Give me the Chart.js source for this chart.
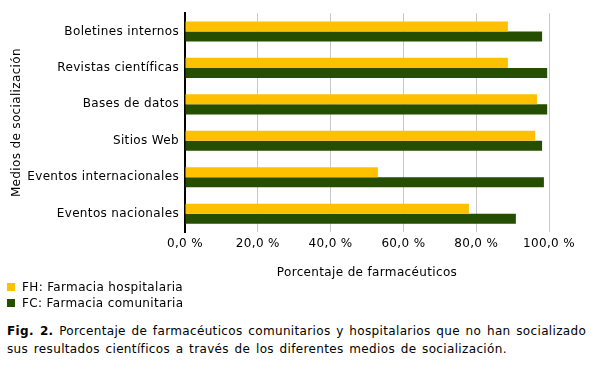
<!DOCTYPE html>
<html>
<head>
<meta charset="utf-8">
<script src="https://cdn.jsdelivr.net/npm/chart.js@4/dist/chart.umd.min.js"></script>
<style>
  body { margin: 0; background: #fff; font-family: "DejaVu Sans", Verdana, sans-serif; color: #000; letter-spacing: 0.35px; }
  #wrap { position: relative; width: 597px; height: 280px; }
  #legend { position: absolute; left: 7px; top: 279px; font-size: 12px; line-height: 16px; }
  #legend .item { display: flex; align-items: center; }
  #legend .box { width: 8px; height: 8px; margin-right: 7px; }
  #caption { position: absolute; left: 7px; top: 322px; width: 590px; font-size: 12px; line-height: 18px; word-spacing: 1.5px; }
</style>
</head>
<body>
<div id="wrap"><canvas id="chart"></canvas></div>
<div id="legend"></div>
<div id="caption"><b>Fig. 2.</b> Porcentaje de farmacéuticos comunitarios y hospitalarios que no han socializado sus resultados científicos a través de los diferentes medios de socialización.</div>
<script>
// Datos
const medios = ['Boletines internos', 'Revistas científicas', 'Bases de datos',
                'Sitios Web', 'Eventos internacionales', 'Eventos nacionales'];
const fhValores = [88.7, 88.7, 96.7, 96.2, 53.0, 78.0];
const fcValores = [98.1, 99.5, 99.5, 98.1, 98.6, 90.9];
const ejeTicks = [0, 20, 40, 60, 80, 100];
const seriesNombres = ['FH: Farmacia hospitalaria', 'FC: Farmacia comunitaria'];
const seriesColores = ['#FFC000', '#254E00'];

document.addEventListener('DOMContentLoaded', function() {
  initializeChart();
});

// Espaciado de letras parecido a Verdana
const spacingPlugin = {
  id: 'spacing',
  beforeLayout(chart) { chart.ctx.letterSpacing = '0.35px'; },
  beforeDraw(chart) { chart.ctx.letterSpacing = '0.35px'; }
};

function initializeChart() {
  const ctx = document.getElementById('chart').getContext('2d');
  Chart.defaults.font.family = '"DejaVu Sans", Verdana, sans-serif';
  Chart.defaults.font.size = 12;
  Chart.defaults.color = '#000';

  const data = {
    labels: medios,
    datasets: [fhValores, fcValores].map((vals, i) => ({
      label: seriesNombres[i],
      data: vals,
      backgroundColor: seriesColores[i],
      borderWidth: 0,
      barPercentage: 1,
      categoryPercentage: 0.55
    }))
  };

  window.mediosChart = new Chart(ctx, {
    type: 'bar',
    data: data,
    plugins: [spacingPlugin],
    options: {
      indexAxis: 'y',
      responsive: true,
      maintainAspectRatio: false,
      animation: false,
      layout: { padding: { top: 12, right: 48, left: 10, bottom: 0 } },
      scales: {
        x: {
          min: 0,
          max: 100,
          afterBuildTicks: function(axis) {
            axis.ticks = ejeTicks.map(v => ({ value: v }));
          },
          afterFit: function(axis) { axis.height = 48; },
          grid: { color: '#C8C8C8', lineWidth: 1, drawTicks: false },
          border: { display: false },
          ticks: {
            padding: 5,
            callback: v => v.toFixed(1).replace('.', ',') + ' %'
          },
          title: { display: true, text: 'Porcentaje de farmacéuticos', padding: { top: 6, bottom: 0 } }
        },
        y: {
          afterFit: function(axis) { axis.width = 175; },
          grid: { display: false, drawTicks: false },
          border: { display: true, color: '#000', width: 2 },
          ticks: { padding: 6 },
          title: { display: true, text: 'Medios de socialización', padding: { top: 0, bottom: 0 } }
        }
      },
      plugins: {
        legend: { display: false },
        tooltip: { enabled: false }
      }
    }
  });

  // Leyenda en HTML
  const legend = document.getElementById('legend');
  seriesNombres.forEach((name, i) => {
    const item = document.createElement('div');
    item.className = 'item';
    item.innerHTML = '<span class="box" style="background:' + seriesColores[i] + '"></span>' + name;
    legend.appendChild(item);
  });
}
</script>
</body>
</html>
